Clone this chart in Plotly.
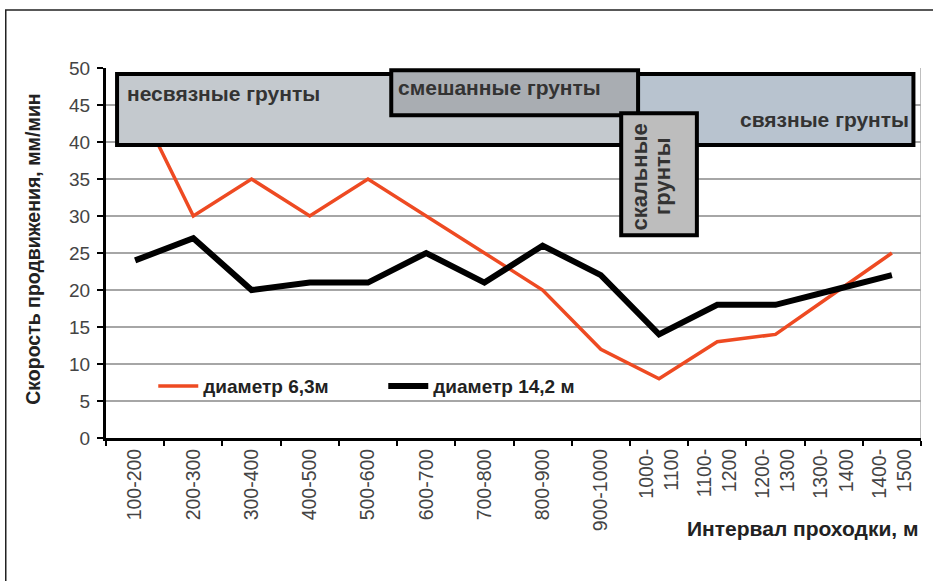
import plotly.graph_objects as go

# Drilling intervals, m
intervals = ["100-200", "200-300", "300-400", "400-500", "500-600", "600-700",
             "700-800", "800-900", "900-1000", "1000-1100", "1100-1200",
             "1200-1300", "1300-1400", "1400-1500"]
tick_text = ["100-200", "200-300", "300-400", "400-500", "500-600", "600-700",
             "700-800", "800-900", "900-1000", "1000-<br>1100", "1100-<br>1200",
             "1200-<br>1300", "1300-<br>1400", "1400-<br>1500"]

# Advance rate, mm/min
speed_d63 = [46, 30, 35, 30, 35, 30, 25, 20, 12, 8, 13, 14, 19.5, 25]
speed_d142 = [24, 27, 20, 21, 21, 25, 21, 26, 22, 14, 18, 18, 20, 22]

y_ticks = [0, 5, 10, 15, 20, 25, 30, 35, 40, 45, 50]

FONT = "Liberation Sans, Arial, sans-serif"

fig = go.Figure()
fig.add_trace(go.Scatter(x=intervals, y=speed_d63, mode="lines",
                         name="<b>диаметр 6,3м</b>",
                         line=dict(color="#ee4a22", width=3.5)))
fig.add_trace(go.Scatter(x=intervals, y=speed_d142, mode="lines",
                         name="<b>диаметр 14,2 м</b>",
                         line=dict(color="#000000", width=6)))

# Soil zones (x in category index units, y in mm/min)
shapes = []
big = dict(x0=-0.31, x1=13.37, y0=39.6, y1=49.2)
split_x = 8.64
shapes.append(dict(type="rect", xref="x", yref="y", x0=big["x0"], x1=split_x,
                   y0=big["y0"], y1=big["y1"], fillcolor="#c4c9ce",
                   line=dict(width=0), layer="above"))
shapes.append(dict(type="rect", xref="x", yref="y", x0=split_x, x1=big["x1"],
                   y0=big["y0"], y1=big["y1"], fillcolor="#b8c3cf",
                   line=dict(width=0), layer="above"))
shapes.append(dict(type="rect", xref="x", yref="y", **big,
                   fillcolor="rgba(0,0,0,0)",
                   line=dict(color="#000", width=4), layer="above"))
shapes.append(dict(type="rect", xref="x", yref="y", x0=4.40, x1=8.64,
                   y0=43.6, y1=49.7, fillcolor="#a9adb2",
                   line=dict(color="#000", width=4), layer="above"))
shapes.append(dict(type="rect", xref="x", yref="y", x0=8.35, x1=9.65,
                   y0=27.4, y1=43.9, fillcolor="#bdbdbd",
                   line=dict(color="#000", width=4), layer="above"))
# right edge of plot area
shapes.append(dict(type="line", xref="x", yref="y", x0=13.5, x1=13.5,
                   y0=0, y1=50, line=dict(color="#aaaaaa", width=1.5),
                   layer="below"))
# outer frame
shapes.append(dict(type="rect", xref="paper", yref="paper", x0=-0.123,
                   x1=1.03, y0=-0.4, y1=1.157,
                   line=dict(color="#222", width=1.5)))

label_font = dict(family=FONT, size=21, color="#333")
rock_font = dict(family=FONT, size=22, color="#333")
annotations = [
    dict(x=-0.17, y=46.6, text="<b>несвязные грунты</b>", xanchor="left",
         yanchor="middle", font=label_font),
    dict(x=4.49, y=47.4, text="<b>смешанные грунты</b>", xanchor="left",
         yanchor="middle", font=label_font),
    dict(x=13.32, y=43.0, text="<b>связные грунты</b>", xanchor="right",
         yanchor="middle", font=label_font),
    dict(x=8.67, y=35.3, text="<b>скальные</b>", textangle=-90,
         xanchor="center", yanchor="middle", font=rock_font),
    dict(x=9.07, y=35.3, text="<b>грунты</b>", textangle=-90,
         xanchor="center", yanchor="middle", font=rock_font),
    dict(xref="paper", yref="paper", x=1.0, y=-0.245,
         text="<b>Интервал проходки, м</b>", xanchor="right", yanchor="middle",
         showarrow=False, font=dict(family=FONT, size=21, color="#222")),
    dict(xref="paper", yref="paper", x=-0.089, y=0.51,
         text="<b>Скорость продвижения, мм/мин</b>", textangle=-90,
         xanchor="center", yanchor="middle", showarrow=False,
         font=dict(family=FONT, size=19.5, color="#222")),
]
for a in annotations[:5]:
    a.update(xref="x", yref="y", showarrow=False)

fig.update_layout(
    width=933, height=581,
    margin=dict(l=106, r=12, t=68, b=143),
    paper_bgcolor="white", plot_bgcolor="white",
    shapes=shapes, annotations=annotations,
    showlegend=True,
    legend=dict(orientation="h", x=0.058, y=0.14, xanchor="left",
                yanchor="middle", bgcolor="rgba(0,0,0,0)",
                font=dict(family=FONT, size=19, color="#222"),
                entrywidth=175, entrywidthmode="pixels",
                itemwidth=40),
    xaxis=dict(type="category", range=[-0.5, 13.5], tickmode="array",
               tickvals=intervals, ticktext=tick_text, tickangle=-90,
               tickson="boundaries", ticks="outside", ticklen=5,
               tickwidth=2, tickcolor="#000", showgrid=False,
               showline=True, linecolor="#000", linewidth=3,
               tickfont=dict(family=FONT, size=19.5, color="#444"),
               zeroline=False, fixedrange=True),
    yaxis=dict(range=[0, 50], tickmode="array", tickvals=y_ticks,
               ticks="outside", ticklen=6, tickwidth=2, tickcolor="#000",
               showgrid=True, gridcolor="#a6a6a6", gridwidth=1.5,
               showline=True, linecolor="#000", linewidth=3,
               zeroline=False, ticklabelstandoff=3,
               tickfont=dict(family=FONT, size=19, color="#444")),
)

fig.write_html("out.html")
